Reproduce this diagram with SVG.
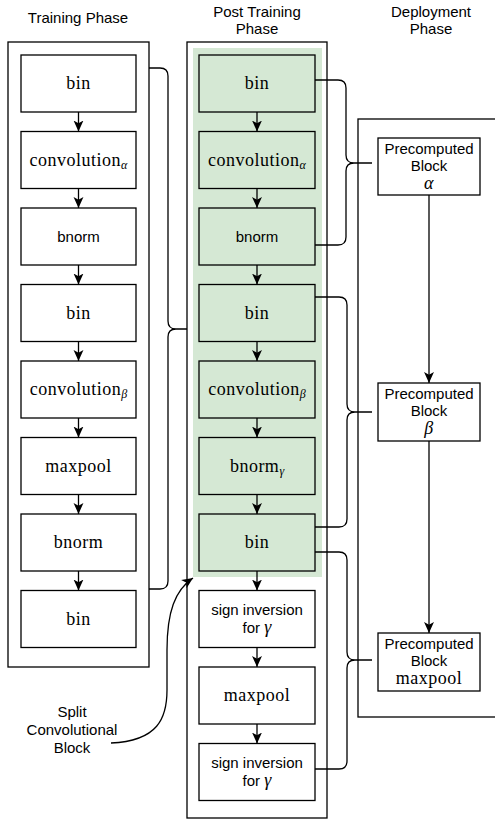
<svg xmlns="http://www.w3.org/2000/svg" width="495" height="821" viewBox="0 0 495 821">
<style>
.box{fill:#fff;stroke:#000;stroke-width:1.3}
.g{fill:#d5e8d4;stroke:#000;stroke-width:1.3}
.cont{fill:none;stroke:#000;stroke-width:1.3}
.ln{fill:none;stroke:#000;stroke-width:1.3}
.arr{fill:none;stroke:#000;stroke-width:1.3;marker-end:url(#ah)}
.s{font-family:"Liberation Sans",Arial,sans-serif;font-size:15px;fill:#000;text-anchor:middle}
.m{font-family:"Liberation Serif","Times New Roman",serif;font-size:18px;fill:#000;text-anchor:middle;letter-spacing:0.5px}
.i{font-style:italic;font-size:12px;letter-spacing:0}
.gi{font-family:"Liberation Serif","Times New Roman",serif;font-style:italic;font-size:18px}
</style>
<defs>
<marker id="ah" viewBox="0 0 10 10" refX="10" refY="5" markerWidth="11" markerHeight="11" markerUnits="userSpaceOnUse" orient="auto">
<path d="M0,0.5 L10,5 L0,9.5 L2.5,5 z" fill="#000"/>
</marker>
</defs>

<!-- titles -->
<text class="s" x="78" y="23">Training Phase</text>
<text class="s" x="257" y="17">Post Training</text>
<text class="s" x="257" y="34">Phase</text>
<text class="s" x="431" y="17">Deployment</text>
<text class="s" x="431" y="34">Phase</text>

<!-- containers -->
<rect id="training-phase" class="cont" x="8" y="42" width="141" height="625"/>
<g id="post-training-phase">
<rect class="cont" x="187" y="42" width="140" height="776"/>
<rect x="193" y="48" width="129" height="529" fill="#d5e8d4"/>
</g>
<rect id="deployment-phase" class="cont" x="358" y="119" width="160" height="598"/>

<!-- training column -->
<g id="t1"><rect class="box" x="21" y="55" width="115" height="57"/><text class="m" x="78.5" y="89">bin</text></g>
<g id="t2"><rect class="box" x="21" y="131.5" width="115" height="57"/><text class="m" x="78.5" y="165.5">convolution<tspan class="i" dy="3">α</tspan></text></g>
<g id="t3"><rect class="box" x="21" y="208" width="115" height="57"/><text class="s" x="78.5" y="241.5">bnorm</text></g>
<g id="t4"><rect class="box" x="21" y="284.5" width="115" height="57"/><text class="m" x="78.5" y="318.5">bin</text></g>
<g id="t5"><rect class="box" x="21" y="361" width="115" height="57"/><text class="m" x="78.5" y="395">convolution<tspan class="i" dy="3">β</tspan></text></g>
<g id="t6"><rect class="box" x="21" y="437.5" width="115" height="57"/><text class="m" x="78.5" y="471.5">maxpool</text></g>
<g id="t7"><rect class="box" x="21" y="514" width="115" height="57"/><text class="m" x="78.5" y="548">bnorm</text></g>
<g id="t8"><rect class="box" x="21" y="590.5" width="115" height="57"/><text class="m" x="78.5" y="624.5">bin</text></g>

<!-- post training column -->
<g id="p1"><rect class="g" x="199" y="55" width="116" height="57"/><text class="m" x="257" y="89">bin</text></g>
<g id="p2"><rect class="g" x="199" y="131.5" width="116" height="57"/><text class="m" x="257" y="165.5">convolution<tspan class="i" dy="3">α</tspan></text></g>
<g id="p3"><rect class="g" x="199" y="208" width="116" height="57"/><text class="s" x="257" y="241.5">bnorm</text></g>
<g id="p4"><rect class="g" x="199" y="284.5" width="116" height="57"/><text class="m" x="257" y="318.5">bin</text></g>
<g id="p5"><rect class="g" x="199" y="361" width="116" height="57"/><text class="m" x="257" y="395">convolution<tspan class="i" dy="3">β</tspan></text></g>
<g id="p6"><rect class="g" x="199" y="437.5" width="116" height="57"/><text class="m" x="257" y="471.5">bnorm<tspan class="i" dy="3">γ</tspan></text></g>
<g id="p7"><rect class="g" x="199" y="514" width="116" height="57"/><text class="m" x="257" y="548">bin</text></g>
<g id="p8"><rect class="box" x="199" y="590.5" width="116" height="57"/><text class="s" x="257" y="615">sign inversion</text><text class="s" x="257" y="633">for <tspan class="gi">γ</tspan></text></g>
<g id="p9"><rect class="box" x="199" y="667" width="116" height="57"/><text class="m" x="257" y="701">maxpool</text></g>
<g id="p10"><rect class="box" x="199" y="743.5" width="116" height="57"/><text class="s" x="257" y="768">sign inversion</text><text class="s" x="257" y="786">for <tspan class="gi">γ</tspan></text></g>

<!-- deployment blocks -->
<g id="d1"><rect class="box" x="378" y="138" width="102" height="57"/><text class="s" x="429" y="154">Precomputed</text><text class="s" x="429" y="171">Block</text><text class="m" x="429" y="189"><tspan class="gi">α</tspan></text></g>
<g id="d2"><rect class="box" x="378" y="383" width="102" height="58"/><text class="s" x="429" y="399">Precomputed</text><text class="s" x="429" y="416">Block</text><text class="m" x="429" y="434"><tspan class="gi">β</tspan></text></g>
<g id="d3"><rect class="box" x="378" y="633" width="102" height="58"/><text class="s" x="429" y="649">Precomputed</text><text class="s" x="429" y="666">Block</text><text class="m" x="429" y="684">maxpool</text></g>

<!-- split label -->
<g id="split-label">
<text class="s" x="72" y="717">Split</text>
<text class="s" x="72" y="735">Convolutional</text>
<text class="s" x="72" y="753">Block</text>
</g>

<!-- connectors -->
<g id="connectors">
<line class="arr" x1="78.5" y1="112" x2="78.5" y2="131.5"/>
<line class="arr" x1="78.5" y1="188.5" x2="78.5" y2="208"/>
<line class="arr" x1="78.5" y1="265" x2="78.5" y2="284.5"/>
<line class="arr" x1="78.5" y1="341.5" x2="78.5" y2="361"/>
<line class="arr" x1="78.5" y1="418" x2="78.5" y2="437.5"/>
<line class="arr" x1="78.5" y1="494.5" x2="78.5" y2="514"/>
<line class="arr" x1="78.5" y1="571" x2="78.5" y2="590.5"/>

<line class="arr" x1="257" y1="112" x2="257" y2="131.5"/>
<line class="arr" x1="257" y1="188.5" x2="257" y2="208"/>
<line class="arr" x1="257" y1="265" x2="257" y2="284.5"/>
<line class="arr" x1="257" y1="341.5" x2="257" y2="361"/>
<line class="arr" x1="257" y1="418" x2="257" y2="437.5"/>
<line class="arr" x1="257" y1="494.5" x2="257" y2="514"/>
<line class="arr" x1="257" y1="571" x2="257" y2="590.5"/>
<line class="arr" x1="257" y1="647.5" x2="257" y2="667"/>
<line class="arr" x1="257" y1="724" x2="257" y2="743.5"/>

<line class="arr" x1="429" y1="195" x2="429" y2="383"/>
<line class="arr" x1="429" y1="441" x2="429" y2="633"/>

<!-- braces -->
<path class="ln" d="M149,68 H160 Q168,68 168,76 V321 Q168,329 176,329 Q168,329 168,337 V581 Q168,589 160,589 H149 M176,329 H187"/>
<path class="ln" d="M315,80 H338 Q346,80 346,88 V155 Q346,163 354,163 Q346,163 346,171 V237 Q346,245 338,245 H315 M354,163 H372"/>
<path class="ln" d="M315,297 H339 Q347,297 347,305 V404 Q347,412 355,412 Q347,412 347,420 V519 Q347,527 339,527 H315 M355,412 H372"/>
<path class="ln" d="M315,552 H339 Q347,552 347,560 V652 Q347,660 355,660 Q347,660 347,668 V761 Q347,769 339,769 H315 M355,660 H372"/>

<path class="arr" d="M111,743 C158,741 167,718 167,690 L167,650 C167,612 175,590 193,578"/>
</g>
</svg>
